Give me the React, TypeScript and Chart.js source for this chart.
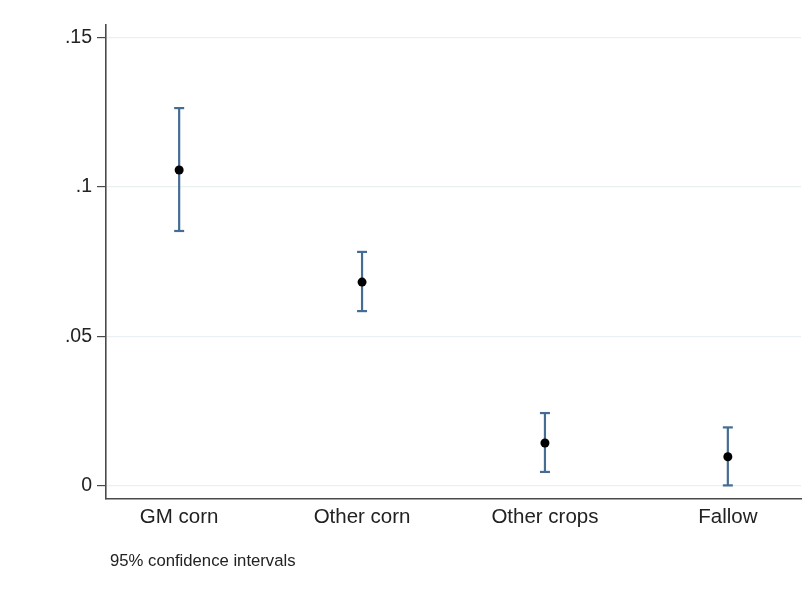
import React, { useEffect, useRef } from "react";
import { Chart, registerables } from "chart.js";

Chart.register(...registerables);

const categories = ["GM corn", "Other corn", "Other crops", "Fallow"];
const estimates = [0.1057, 0.0682, 0.0144, 0.0098];
const lowerCI = [0.0853, 0.0585, 0.0047, 0.0002];
const upperCI = [0.1264, 0.0783, 0.0244, 0.0196];
const yTicks = [0, 0.05, 0.1, 0.15];
const yTickLabels = ["0", ".05", ".1", ".15"];
const note = "95% confidence intervals";

const FONT = "'Liberation Sans', Arial, sans-serif";
const CI_COLOR = "#456c93";

export default function App() {
  const ref = useRef<HTMLCanvasElement | null>(null);

  useEffect(() => {
    if (!ref.current) return;
    const ciSets = categories.map((c, i) => ({
      type: "scatter" as const,
      label: c + " CI",
      data: [
        { x: i + 1, y: lowerCI[i] },
        { x: i + 1, y: upperCI[i] },
      ],
      showLine: true,
      borderColor: CI_COLOR,
      backgroundColor: CI_COLOR,
      borderWidth: 2.2,
      pointStyle: "line" as const,
      pointRadius: 5,
      pointBorderWidth: 2.2,
      pointBorderColor: CI_COLOR,
      order: 2,
    }));
    const chart = new Chart(ref.current, {
      type: "scatter",
      data: {
        datasets: [
          ...ciSets,
          {
            label: "Estimate",
            data: estimates.map((v, i) => ({ x: i + 1, y: v })),
            backgroundColor: "#000000",
            borderColor: "#000000",
            pointRadius: 4.5,
            pointBorderWidth: 0,
            order: 1,
          },
        ],
      },
      options: {
        animation: false,
        responsive: false,
        layout: { padding: { top: 25, right: 8, left: 0, bottom: 0 } },
        plugins: {
          legend: { display: false },
          tooltip: { enabled: false },
        },
        scales: {
          x: {
            type: "linear",
            min: 0.6,
            max: 4.4,
            afterBuildTicks: (s: any) => {
              s.ticks = categories.map((_, i) => ({ value: i + 1 }));
            },
            afterFit: (s: any) => {
              s.height = 592 - 499;
            },
            ticks: {
              autoSkip: false,
              maxRotation: 0,
              padding: 6,
              color: "#222",
              font: { family: FONT, size: 20.5 },
              callback: (v: any) => {
                const idx = Math.round(Number(v)) - 1;
                return categories[idx] ?? "";
              },
            },
            grid: { display: false, drawTicks: false },
            border: { display: true, color: "#4a4a4a", width: 1.6 },
          },
          y: {
            type: "linear",
            min: -0.00435,
            max: 0.1542,
            afterBuildTicks: (s: any) => {
              s.ticks = yTicks.map((v) => ({ value: v }));
            },
            afterFit: (s: any) => {
              s.width = 106;
            },
            ticks: {
              padding: 5,
              color: "#222",
              font: { family: FONT, size: 19.5 },
              callback: (v: any) => {
                const idx = yTicks.findIndex((t) => Math.abs(t - Number(v)) < 1e-9);
                return idx >= 0 ? yTickLabels[idx] : "";
              },
            },
            grid: {
              color: "#e8f0f2",
              lineWidth: 1.2,
              tickColor: "#4a4a4a",
              tickLength: 9,
              tickWidth: 1.2,
            },
            border: { display: true, color: "#4a4a4a", width: 1.6 },
          },
        },
      },
    } as any);
    return () => chart.destroy();
  }, []);

  return (
    <div style={{ position: "fixed", left: 0, top: 0, width: 809, height: 592, background: "#fff" }}>
      <canvas ref={ref} width={809} height={592} style={{ display: "block" }} />
      <div
        style={{
          position: "absolute",
          left: 110,
          top: 551,
          fontFamily: FONT,
          fontSize: 16.7,
          color: "#222",
          whiteSpace: "nowrap",
          lineHeight: "20px",
        }}
      >
        {note}
      </div>
    </div>
  );
}
